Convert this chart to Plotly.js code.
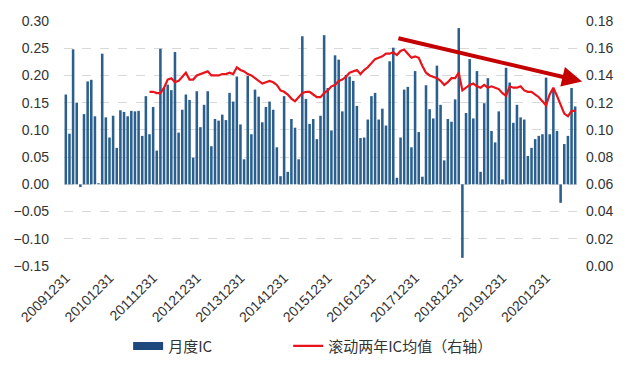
<!DOCTYPE html>
<html>
<head>
<meta charset="utf-8">
<script src="https://cdn.plot.ly/plotly-3.0.1.min.js"></script>
<style>html,body{margin:0;padding:0;background:#fff;}#chart{width:627px;height:375px;}</style>
</head>
<body>
<div id="chart"></div>
<script>
// Monthly IC, 2009-12 .. 2021-08 (141 months)
const monthlyIC = [
  0.165, 0.093, 0.248, 0.150, -0.005, 0.129, 0.189, 0.192, 0.125, 0.002,
  0.240, 0.123, 0.086, 0.126, 0.067, 0.136, 0.133, 0.125, 0.135, 0.134,
  0.135, 0.089, 0.162, 0.092, 0.142, 0.062, 0.249, 0.177, 0.183, 0.173,
  0.243, 0.095, 0.137, 0.165, 0.155, 0.049, 0.171, 0.105, 0.146, 0.171,
  0.070, 0.120, 0.117, 0.128, 0.118, 0.168, 0.152, 0.198, 0.110, 0.046,
  0.199, 0.092, 0.174, 0.161, 0.114, 0.142, 0.152, 0.137, 0.068, 0.015,
  0.162, 0.023, 0.120, 0.104, 0.046, 0.272, 0.157, 0.111, 0.120, 0.083,
  0.126, 0.274, 0.177, 0.099, 0.237, 0.229, 0.134, 0.201, 0.198, 0.190,
  0.144, 0.085, 0.086, 0.119, 0.162, 0.168, 0.119, 0.139, 0.108, 0.226,
  0.251, 0.012, 0.086, 0.174, 0.179, 0.068, 0.208, 0.096, 0.014, 0.182,
  0.138, 0.121, 0.218, 0.146, 0.044, 0.120, 0.115, 0.156, 0.287, -0.135,
  0.131, 0.230, 0.121, 0.208, 0.023, 0.149, 0.195, 0.098, 0.077, 0.134,
  0.009, 0.214, 0.187, 0.113, 0.146, 0.123, 0.119, 0.052, 0.067, 0.083,
  0.089, 0.092, 0.196, 0.092, 0.174, 0.098, -0.034, 0.074, 0.089, 0.177,
  0.143
];
// Rolling two-year mean IC (right axis), starting at the 24th month
const rollingIC = [
  0.128, 0.128, 0.127, 0.127, 0.131, 0.137, 0.138, 0.135, 0.136, 0.139,
  0.142, 0.137, 0.137, 0.140, 0.141, 0.142, 0.143, 0.140, 0.140, 0.140,
  0.141, 0.141, 0.142, 0.141, 0.146, 0.144, 0.143, 0.141, 0.140, 0.138,
  0.136, 0.134, 0.135, 0.136, 0.135, 0.133, 0.129, 0.128, 0.126, 0.123,
  0.121, 0.124, 0.127, 0.128, 0.128, 0.126, 0.124, 0.124, 0.127, 0.129,
  0.132, 0.133, 0.136, 0.137, 0.139, 0.142, 0.143, 0.144, 0.141, 0.144,
  0.146, 0.149, 0.152, 0.153, 0.154, 0.156, 0.156, 0.157, 0.155, 0.158,
  0.159, 0.156, 0.153, 0.154, 0.153, 0.147, 0.142, 0.140, 0.139, 0.138,
  0.136, 0.133, 0.135, 0.138, 0.138, 0.142, 0.129, 0.131, 0.133, 0.134,
  0.132, 0.131, 0.133, 0.131, 0.132, 0.131, 0.130, 0.127, 0.125, 0.132,
  0.131, 0.131, 0.132, 0.129, 0.128, 0.128, 0.126, 0.124, 0.121, 0.118,
  0.126, 0.131, 0.125, 0.118, 0.112, 0.110, 0.114, 0.114
];
const tickLabels = ['20091231','20101231','20111231','20121231','20131231','20141231',
                    '20151231','20161231','20171231','20181231','20191231','20201231'];
const seriesNames = ['月度IC', '滚动两年IC均值（右轴）'];

// month categories starting 2009-12
const months = [];
for (let k = 0; k < monthlyIC.length; k++) {
  const m = 11 + k;
  const yr = 2009 + Math.floor(m / 12);
  const mo = (m % 12) + 1;
  months.push(String(yr) + (mo < 10 ? '0' + mo : mo));
}
const rollX = months.slice(months.length - rollingIC.length);
const tickVals = tickLabels.map(t => t.slice(0, 6));

const BLUE = '#2b5f8e';
const RED = '#e8131b';
const font = 'Liberation Sans, Arial, "Noto Sans CJK SC", sans-serif';
const legFont = {family: '"Noto Sans CJK SC", sans-serif', size: 15, color: '#333'};

const traces = [
  {type: 'bar', x: months, y: monthlyIC, name: seriesNames[0], showlegend: false,
   marker: {color: BLUE, line: {width: 0}}, yaxis: 'y'},
  {type: 'scatter', mode: 'lines', x: [null], y: [null], name: seriesNames[0],
   line: {color: '#1f497d', width: 8}, hoverinfo: 'skip', legend: 'legend'},
  {type: 'scatter', mode: 'lines', x: rollX, y: rollingIC, name: seriesNames[1],
   line: {color: RED, width: 2.2}, yaxis: 'y2', legend: 'legend2'}
];

const layout = {
  width: 627, height: 375,
  margin: {l: 64, r: 50, t: 21, b: 99},
  paper_bgcolor: '#fff', plot_bgcolor: '#fff',
  bargap: 0.3,
  font: {family: font, size: 14, color: '#333'},
  showlegend: true,
  legend: {orientation: 'h', x: 0.125, xanchor: 'left', y: -0.26, yanchor: 'top',
           font: legFont, itemwidth: 30},
  legend2: {orientation: 'h', x: 0.437, xanchor: 'left', y: -0.26, yanchor: 'top',
           font: legFont, itemwidth: 30},
  xaxis: {type: 'category', range: [-0.5, months.length - 0.5],
          tickmode: 'array', tickvals: tickVals, ticktext: tickLabels,
          tickangle: -45, showgrid: false, zeroline: false, showline: false,
          ticks: '', tickfont: {size: 14, color: '#333'}},
  yaxis: {range: [-0.15, 0.30], dtick: 0.05, tick0: 0, tickformat: '.2f',
          showgrid: true, gridcolor: '#d9d9d9', griddash: 'dash', gridwidth: 1,
          zeroline: false, showline: false, ticks: '', ticklabelstandoff: 14,
          tickfont: {size: 14, color: '#333'}},
  yaxis2: {overlaying: 'y', side: 'right', range: [0, 0.18], dtick: 0.02, tick0: 0,
           tickformat: '.2f', showgrid: false, zeroline: false, showline: false,
           ticks: '', ticklabelstandoff: 8, tickfont: {size: 14, color: '#333'}},
  annotations: [{
    x: 141.9, y: 0.189, xref: 'x', yref: 'y',
    ax: 91.0, ay: 0.269, axref: 'x', ayref: 'y',
    showarrow: true, text: '', arrowcolor: '#c40000', arrowwidth: 4,
    arrowhead: 2, arrowsize: 1.0, standoff: 0
  }]
};

Plotly.newPlot('chart', traces, layout, {displayModeBar: false, staticPlot: true});
</script>
</body>
</html>
